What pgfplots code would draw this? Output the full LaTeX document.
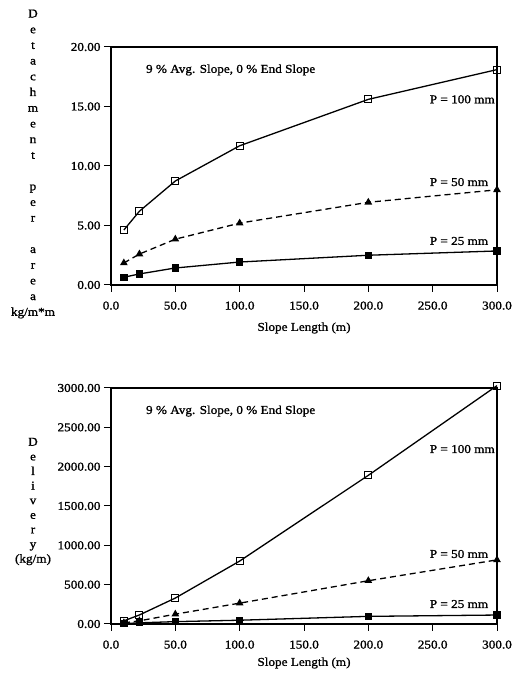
\documentclass[border=0pt]{standalone}
\usepackage{fontspec}
\setmainfont{Liberation Serif}[FakeStretch=1.1, FakeBold=1.2]
\usepackage{pgfplots}
\pgfplotsset{compat=1.18}

\newcommand{\lbl}{\fontsize{12}{14}\selectfont}

\pgfplotsset{
  slopepanel/.style={
    scale only axis, width=386pt, anchor=south west,
    xmin=0, xmax=300, ymin=0, enlargelimits=false, clip=false,
    xtick={0,50,...,300},
    axis line style={line width=1.3pt},
    tick style={line width=1pt, black},
    tick align=outside, major tick length=7pt,
    xtick pos=bottom, ytick pos=left,
    tick label style={font=\lbl},
    xticklabel style={yshift=-6pt},
    /pgf/number format/assume math mode=true,
    /pgf/number format/1000 sep={},
    xticklabel style={/pgf/number format/.cd, fixed, precision=1, zerofill},
    yticklabel style={/pgf/number format/.cd, fixed, precision=2, zerofill},
    scaled ticks=false,
  },
  p100/.style={black, line width=1.3pt, mark=square, mark size=3.5pt, mark options={solid, line width=1pt, fill=white}},
  p50/.style={black, line width=1.3pt, dash pattern=on 6pt off 4pt, mark=triangle*, mark size=3.2pt, mark options={solid}},
  p25/.style={black, line width=1.3pt, mark=square*, mark size=3pt},
}

\begin{document}
\begin{tikzpicture}
\path[use as bounding box] (0,0) rectangle (516pt,678pt);

% detachment per unit area
\begin{axis}[slopepanel, at={(111pt,393pt)}, height=238pt,
  ymax=20, ytick={0,5,...,20}]
\addplot[p100] coordinates {(10,4.62) (22.1,6.2) (50,8.74) (100,11.7) (200,15.6) (300,18.1)};
\addplot[p50] coordinates {(10,1.85) (22.1,2.6) (50,3.85) (100,5.2) (200,6.95) (300,8.0)};
\addplot[p25] coordinates {(10,0.65) (22.1,0.93) (50,1.43) (100,1.93) (200,2.5) (300,2.86)};
\node[anchor=west, font=\lbl] at (axis cs:24.5,18.07) {9 \% Avg. Slope, 0 \% End Slope};
\node[anchor=west, font=\lbl] at (axis cs:245,15.6) {P = 100 mm};
\node[anchor=west, font=\lbl] at (axis cs:245,8.65) {P = 50 mm};
\node[anchor=west, font=\lbl] at (axis cs:245,3.7) {P = 25 mm};
\end{axis}

% delivery per unit width
\begin{axis}[slopepanel, at={(111pt,54pt)}, height=236pt,
  ymax=3000, ytick={0,500,...,3000}]
\addplot[p100] coordinates {(10,40) (22.1,115) (50,330) (100,800) (200,1890) (300,3030)};
\addplot[p50] coordinates {(10,15) (22.1,40) (50,125) (100,265) (200,550) (300,815)};
\addplot[p25] coordinates {(10,5) (22.1,15) (50,30) (100,48) (200,97) (300,114)};
\node[anchor=west, font=\lbl] at (axis cs:24.5,2707) {9 \% Avg. Slope, 0 \% End Slope};
\node[anchor=west, font=\lbl] at (axis cs:245,2224) {P = 100 mm};
\node[anchor=west, font=\lbl] at (axis cs:245,890) {P = 50 mm};
\node[anchor=west, font=\lbl] at (axis cs:245,254) {P = 25 mm};
\end{axis}

% axis titles
\node[align=center, inner sep=0, font=\fontsize{12}{15.7}\selectfont] at (33pt,514pt)
  {D\\e\\t\\a\\c\\h\\m\\e\\n\\t\\[15.7pt]p\\e\\r\\[15.7pt]a\\r\\e\\a\\kg/m*m};
\node[align=center, inner sep=0, font=\fontsize{12}{14.6}\selectfont] at (33pt,176.5pt)
  {D\\e\\l\\i\\v\\e\\r\\y\\(kg/m)};
\node[font=\lbl] at (304pt,350pt) {Slope Length (m)};
\node[font=\lbl] at (304pt,15pt) {Slope Length (m)};
\end{tikzpicture}
\end{document}
